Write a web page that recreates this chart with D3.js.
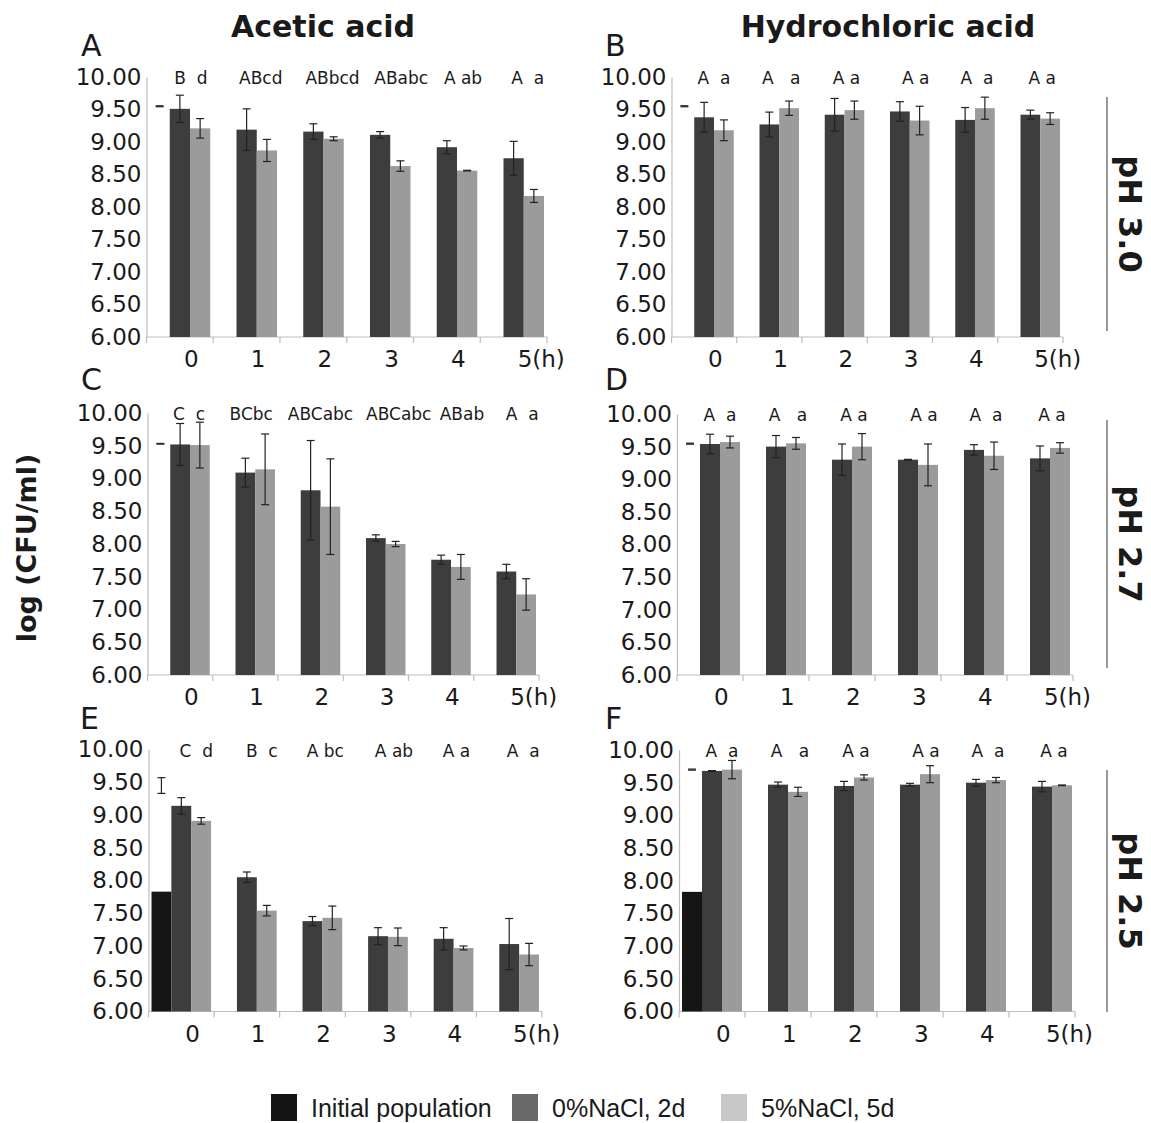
<!DOCTYPE html>
<html>
<head>
<meta charset="utf-8">
<script src="https://cdn.jsdelivr.net/npm/d3@7"></script>
<style>
  body { margin: 0; background: #fff; }
  svg text { font-family: "DejaVu Sans", Verdana, sans-serif; fill: #1a1a1a; }
  .letters { white-space: pre; }
</style>
</head>
<body>
<div id="chart"></div>
<script>
  // Hours after acid exposure
  var hours = ["0", "1", "2", "3", "4", "5"];

  // A: acetic acid, pH 3.0
  var aNaCl0 = [9.51, 9.19, 9.16, 9.11, 8.92, 8.75];
  var aNaCl0Err = [0.21, 0.32, 0.12, 0.05, 0.10, 0.26];
  var aNaCl5 = [9.21, 8.87, 9.05, 8.63, 8.56, 8.17];
  var aNaCl5Err = [0.15, 0.17, 0.03, 0.08, 0.005, 0.10];
  var aLetters = ["B  d", "ABcd", "ABbcd", "ABabc", "A ab", "A  a"];

  // B: hydrochloric acid, pH 3.0
  var bNaCl0 = [9.38, 9.27, 9.42, 9.47, 9.34, 9.42];
  var bNaCl0Err = [0.23, 0.19, 0.25, 0.15, 0.19, 0.07];
  var bNaCl5 = [9.18, 9.52, 9.49, 9.33, 9.52, 9.36];
  var bNaCl5Err = [0.16, 0.11, 0.14, 0.22, 0.17, 0.09];
  var bLetters = ["A  a", "A   a", "A a", "A a", "A  a", "A a"];

  // C: acetic acid, pH 2.7
  var cNaCl0 = [9.52, 9.09, 8.82, 8.09, 7.76, 7.58];
  var cNaCl0Err = [0.32, 0.22, 0.76, 0.05, 0.07, 0.11];
  var cNaCl5 = [9.51, 9.14, 8.57, 8.00, 7.65, 7.23];
  var cNaCl5Err = [0.35, 0.54, 0.73, 0.04, 0.19, 0.24];
  var cLetters = ["C  c", "BCbc", "ABCabc", "ABCabc", "ABab", "A  a"];

  // D: hydrochloric acid, pH 2.7
  var dNaCl0 = [9.54, 9.50, 9.30, 9.30, 9.45, 9.32];
  var dNaCl0Err = [0.15, 0.17, 0.24, 0.005, 0.08, 0.19];
  var dNaCl5 = [9.57, 9.55, 9.50, 9.22, 9.36, 9.48];
  var dNaCl5Err = [0.09, 0.09, 0.20, 0.32, 0.21, 0.08];
  var dLetters = ["A  a", "A   a", "A a", "A a", "A  a", "A a"];

  // E: acetic acid, pH 2.5
  var eNaCl0 = [9.14, 8.05, 7.38, 7.15, 7.11, 7.03];
  var eNaCl0Err = [0.125, 0.08, 0.07, 0.13, 0.17, 0.39];
  var eNaCl5 = [8.91, 7.54, 7.43, 7.14, 6.97, 6.87];
  var eNaCl5Err = [0.05, 0.08, 0.18, 0.135, 0.03, 0.17];
  var eLetters = ["C  d", "B  c", "A bc", "A ab", "A a", "A  a"];

  // F: hydrochloric acid, pH 2.5
  var fNaCl0 = [9.68, 9.47, 9.45, 9.47, 9.50, 9.44];
  var fNaCl0Err = [0.005, 0.04, 0.07, 0.02, 0.05, 0.08];
  var fNaCl5 = [9.70, 9.36, 9.58, 9.63, 9.54, 9.46];
  var fNaCl5Err = [0.14, 0.07, 0.04, 0.13, 0.04, 0.005];
  var fLetters = ["A  a", "A   a", "A a", "A a", "A  a", "A a"];

  // Initial population (hour 0), one entry per panel A..F
  var initBar = [null, null, null, null, 7.83, 7.83];
  var initErrMid = [9.55, 9.55, 9.53, 9.545, 9.45, 9.70];
  var initErrHalf = [0.008, 0.008, 0.005, 0.008, 0.12, 0.008];

  var yTicks = [6, 6.5, 7, 7.5, 8, 8.5, 9, 9.5, 10];
  var legendLabels = ["Initial population", "0%NaCl, 2d", "5%NaCl, 5d"];

  var barColors = { init: "#151515", n0: "#3d3d3d", n5: "#9b9b9b" };
  var legendColors = ["#141414", "#6a6a6a", "#c7c7c7"];

  var width = 1151, height = 1123;
  var svg = d3.select("#chart").append("svg")
      .attr("width", width).attr("height", height);

  // Panel layout (pixel frame of each plot, nudges of the letter groups)
  var panels = [
    { name: "A", x0: 146.5, x1: 547, y10: 77, y6: 337, n0: aNaCl0, e0: aNaCl0Err, n5: aNaCl5, e5: aNaCl5Err, letters: aLetters, ldx: [1, 4, 9, 11, 6, 4], lx: 81, ly: 56 },
    { name: "B", x0: 671.5, x1: 1063, y10: 77, y6: 337, n0: bNaCl0, e0: bNaCl0Err, n5: bNaCl5, e5: bNaCl5Err, letters: bLetters, ldx: [0, 2, 2, 6, 2, 2], lx: 605, ly: 56 },
    { name: "C", x0: 147.5, x1: 539, y10: 413, y6: 675, n0: cNaCl0, e0: cNaCl0Err, n5: cNaCl5, e5: cNaCl5Err, letters: cLetters, ldx: [-1, -4, 0, 13, 11, 6], lx: 81, ly: 390 },
    { name: "D", x0: 677, x1: 1073, y10: 414, y6: 675, n0: dNaCl0, e0: dNaCl0Err, n5: dNaCl5, e5: dNaCl5Err, letters: dLetters, ldx: [0, 2, 2, 6, 2, 2], lx: 605, ly: 390 },
    { name: "E", x0: 148.5, x1: 542, y10: 749.5, y6: 1011.5, n0: eNaCl0, e0: eNaCl0Err, n5: eNaCl5, e5: eNaCl5Err, letters: eLetters, ldx: [5, 5, 3, 6, 3, 4], lx: 80, ly: 729 },
    { name: "F", x0: 679, x1: 1075, y10: 750, y6: 1011.5, n0: fNaCl0, e0: fNaCl0Err, n5: fNaCl5, e5: fNaCl5Err, letters: fLetters, ldx: [0, 2, 2, 6, 2, 2], lx: 605, ly: 729 }
  ];

  function drawErrorBar(g, cx, yScale, mid, half) {
    var capW = 4;
    var yTop = yScale(mid + half), yBot = yScale(mid - half);
    g.append("line").attr("x1", cx).attr("x2", cx).attr("y1", yTop).attr("y2", yBot)
      .attr("stroke", "#222").attr("stroke-width", 1.2);
    [yTop, yBot].forEach(function(yy) {
      g.append("line").attr("x1", cx - capW).attr("x2", cx + capW).attr("y1", yy).attr("y2", yy)
        .attr("stroke", "#222").attr("stroke-width", 1.2);
    });
  }

  panels.forEach(function(p, pi) {
    var g = svg.append("g");
    var x = d3.scaleBand().domain(hours).range([p.x0, p.x1]);
    var bw = x.bandwidth();
    var sub = d3.scaleBand().domain(["init", "n0", "n5"]).range([3, bw - 3]);
    var y = d3.scaleLinear().domain([6, 10]).range([p.y6, p.y10]);

    // y axis
    var yAxis = d3.axisLeft(y).tickValues(yTicks).tickFormat(d3.format(".2f")).tickSize(0).tickPadding(5);
    var ya = g.append("g").attr("transform", "translate(" + p.x0 + ",0)").call(yAxis);
    ya.select(".domain").attr("stroke", "#bdbdbd").attr("stroke-width", 1.2);
    ya.selectAll("text").attr("font-size", 23).attr("fill", "#1a1a1a")
      .attr("font-family", "DejaVu Sans, sans-serif");

    // x axis line + boundary ticks
    g.append("line").attr("x1", p.x0).attr("x2", p.x1).attr("y1", p.y6).attr("y2", p.y6)
      .attr("stroke", "#bdbdbd").attr("stroke-width", 1.2);
    var bounds = hours.map(function(h) { return x(h); }).concat([p.x1]);
    g.selectAll(".xtick").data(bounds).enter().append("line")
      .attr("x1", function(d) { return d; }).attr("x2", function(d) { return d; })
      .attr("y1", p.y6).attr("y2", p.y6 + 6)
      .attr("stroke", "#bdbdbd").attr("stroke-width", 1.2);
    g.selectAll(".xlab").data(hours).enter().append("text")
      .attr("x", function(d) { return x(d) + bw * 0.67; })
      .attr("dx", "-0.318em")
      .attr("y", p.y6 + 30)
      .attr("font-size", 23)
      .text(function(d, i) { return i === hours.length - 1 ? d + "(h)" : d; });

    // initial population (hour 0)
    var cxInit = x(hours[0]) + sub("init") + sub.bandwidth() / 2;
    if (initBar[pi] !== null) {
      g.append("rect").attr("x", x(hours[0]) + sub("init")).attr("width", sub.bandwidth())
        .attr("y", y(initBar[pi])).attr("height", y(6) - y(initBar[pi]))
        .attr("fill", barColors.init);
    }
    drawErrorBar(g, cxInit, y, initErrMid[pi], initErrHalf[pi]);

    // bars
    hours.forEach(function(h, i) {
      [["n0", p.n0, p.e0], ["n5", p.n5, p.e5]].forEach(function(s) {
        var v = s[1][i];
        g.append("rect").attr("x", x(h) + sub(s[0])).attr("width", sub.bandwidth())
          .attr("y", y(v)).attr("height", y(6) - y(v)).attr("fill", barColors[s[0]]);
      });
    });
    hours.forEach(function(h, i) {
      [["n0", p.n0, p.e0], ["n5", p.n5, p.e5]].forEach(function(s) {
        drawErrorBar(g, x(h) + sub(s[0]) + sub.bandwidth() / 2, y, s[1][i], s[2][i]);
      });
    });

    // significance letters
    g.selectAll(".letters").data(p.letters).enter().append("text")
      .attr("class", "letters")
      .attr("x", function(d, i) { return x(hours[i]) + sub("n5") + p.ldx[i]; })
      .attr("y", p.y10 + 7)
      .attr("text-anchor", "middle")
      .attr("font-size", 17)
      .text(function(d) { return d; });

    // panel letter
    g.append("text").attr("x", p.lx).attr("y", p.ly).attr("font-size", 30).text(p.name);
  });

  // column titles
  svg.append("text").attr("x", 323).attr("y", 37).attr("text-anchor", "middle")
    .attr("font-size", 30).attr("font-weight", "bold").text("Acetic acid");
  svg.append("text").attr("x", 888).attr("y", 37).attr("text-anchor", "middle")
    .attr("font-size", 30).attr("font-weight", "bold").text("Hydrochloric acid");

  // y axis title
  svg.append("text").attr("transform", "translate(36,548) rotate(-90)")
    .attr("text-anchor", "middle").attr("font-size", 27).attr("font-weight", "bold")
    .text("log (CFU/ml)");

  // pH row labels with separator lines
  var phRows = [
    { label: "pH 3.0", top: 97, bottom: 331 },
    { label: "pH 2.7", top: 420, bottom: 668 },
    { label: "pH 2.5", top: 770, bottom: 1012 }
  ];
  phRows.forEach(function(r) {
    svg.append("line").attr("x1", 1107).attr("x2", 1107).attr("y1", r.top).attr("y2", r.bottom)
      .attr("stroke", "#555").attr("stroke-width", 1.2);
    svg.append("text")
      .attr("transform", "translate(1119," + ((r.top + r.bottom) / 2) + ") rotate(90)")
      .attr("text-anchor", "middle").attr("font-size", 32).attr("font-weight", "bold")
      .text(r.label);
  });

  // legend
  var legendX = [271, 512, 721];
  var legend = svg.append("g");
  legendLabels.forEach(function(lbl, i) {
    legend.append("rect").attr("x", legendX[i]).attr("y", 1094).attr("width", 26).attr("height", 27)
      .attr("fill", legendColors[i]);
    legend.append("text").attr("x", legendX[i] + 40).attr("y", 1117)
      .attr("font-size", 25)
      .style("font-family", "'Liberation Sans', Arial, sans-serif")
      .text(lbl);
  });
</script>
</body>
</html>
